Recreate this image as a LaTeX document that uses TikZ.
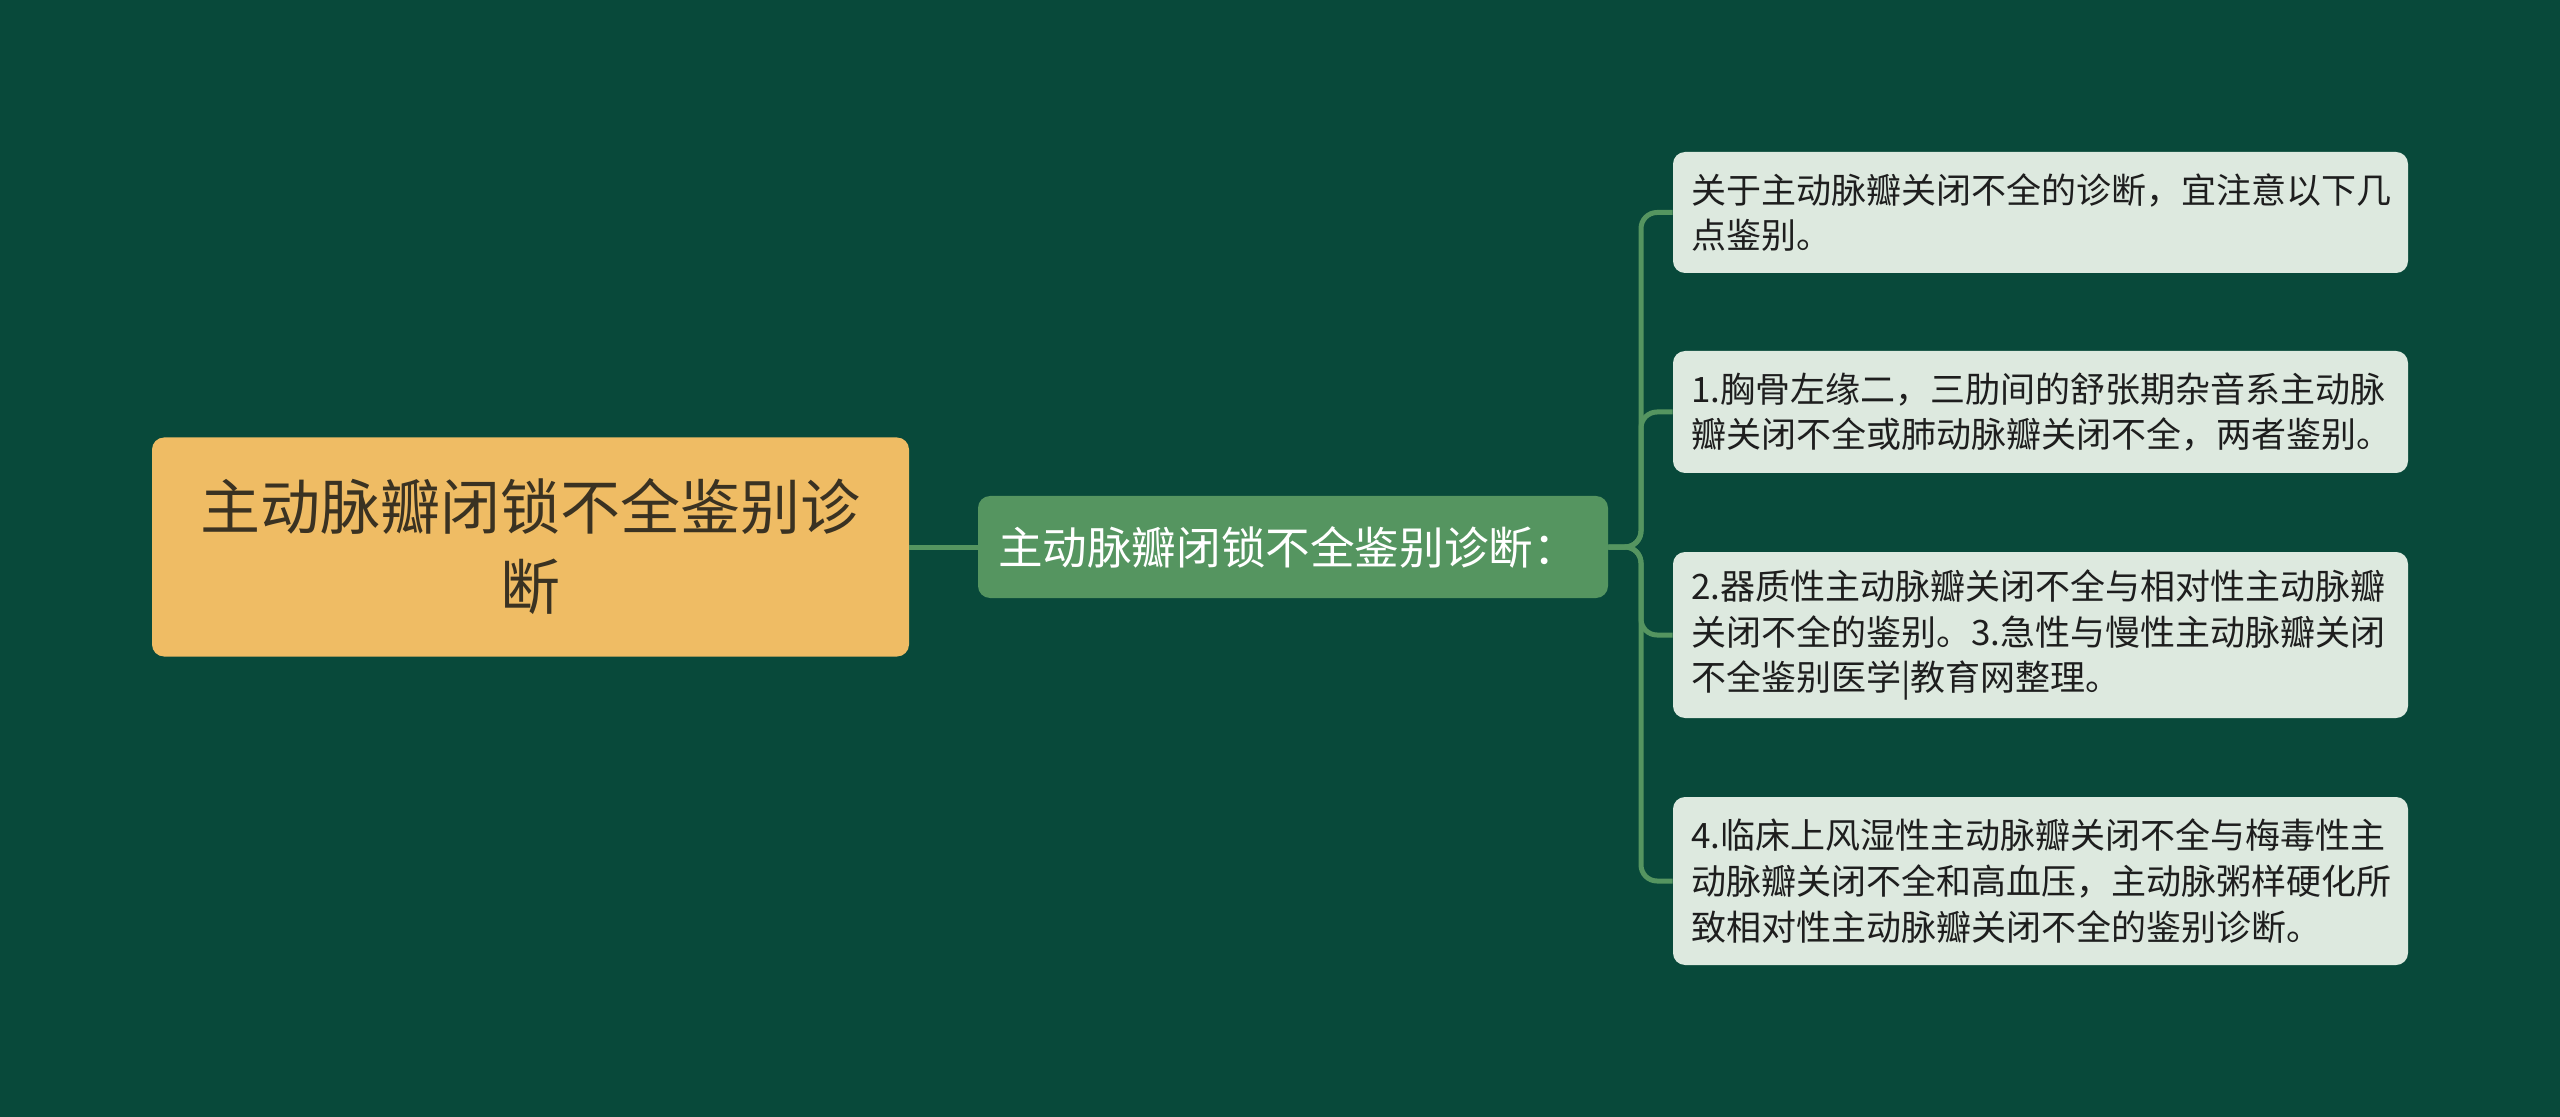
\documentclass[tikz,border=0pt]{standalone}
\usepackage{fontspec}
\newfontfamily\cjk{Noto Sans CJK SC}
\definecolor{bg}{HTML}{08493A}
\definecolor{rootfill}{HTML}{EFBC64}
\definecolor{roottext}{HTML}{3A3222}
\definecolor{midfill}{HTML}{559560}
\definecolor{leaffill}{HTML}{DDE9DF}
\definecolor{leaftext}{HTML}{1E1E1E}
\definecolor{linkc}{HTML}{559560}
\begin{document}
\begin{tikzpicture}[x=0.5pt,y=-0.5pt,
  rootbox/.style={fill=rootfill, rounded corners=6pt, text=roottext, align=center,
    font=\cjk\fontsize{30}{40}\selectfont, inner sep=0pt},
  midbox/.style={fill=midfill, rounded corners=6pt, text=white, align=left,
    font=\cjk\fontsize{22.3}{28}\selectfont, inner xsep=10pt, inner ysep=0pt,
    text width=295pt, minimum width=315pt},
  leafbox/.style={fill=leaffill, rounded corners=6pt, text=leaftext, align=left,
    font=\cjk\fontsize{17.5}{22.9}\selectfont, inner xsep=9pt, inner ysep=0pt,
    text width=349.5pt, minimum width=367.5pt},
  link/.style={draw=linkc, line width=2.5pt, rounded corners=8pt}]
\fill[bg] (0,0) rectangle (2560,1117);
\useasboundingbox (0,0) rectangle (2560,1117);

\node[rootbox, minimum width=378.5pt, minimum height=109.5pt] (root) at (530.5,547)
  {主动脉瓣闭锁不全鉴别诊\\断};
\node[midbox, minimum height=51pt] (mid) at (1293,547)
  {主动脉瓣闭锁不全鉴别诊断：};

\node[leafbox, minimum height=60.5pt] (l1) at (2040.5,212.5)
  {关于主动脉瓣关闭不全的诊断，宜注意以下几\\点鉴别。};
\node[leafbox, minimum height=61pt] (l2) at (2040.5,412)
  {1.胸骨左缘二，三肋间的舒张期杂音系主动脉\\瓣关闭不全或肺动脉瓣关闭不全，两者鉴别。};
\node[leafbox, minimum height=83pt] (l3) at (2040.5,635)
  {2.器质性主动脉瓣关闭不全与相对性主动脉瓣\\关闭不全的鉴别。3.急性与慢性主动脉瓣关闭\\不全鉴别医学|教育网整理。};
\node[leafbox, minimum height=84pt] (l4) at (2040.5,881)
  {4.临床上风湿性主动脉瓣关闭不全与梅毒性主\\动脉瓣关闭不全和高血压，主动脉粥样硬化所\\致相对性主动脉瓣关闭不全的鉴别诊断。};

\coordinate (trunk) at (1641,547);
\draw[link] (root.east) -- (mid.west);
\foreach \l in {l1,l2,l3,l4}{
  \draw[link] (mid.east) -- (trunk) -- (trunk |- \l.west) -- (\l.west);
}
\end{tikzpicture}
\end{document}
